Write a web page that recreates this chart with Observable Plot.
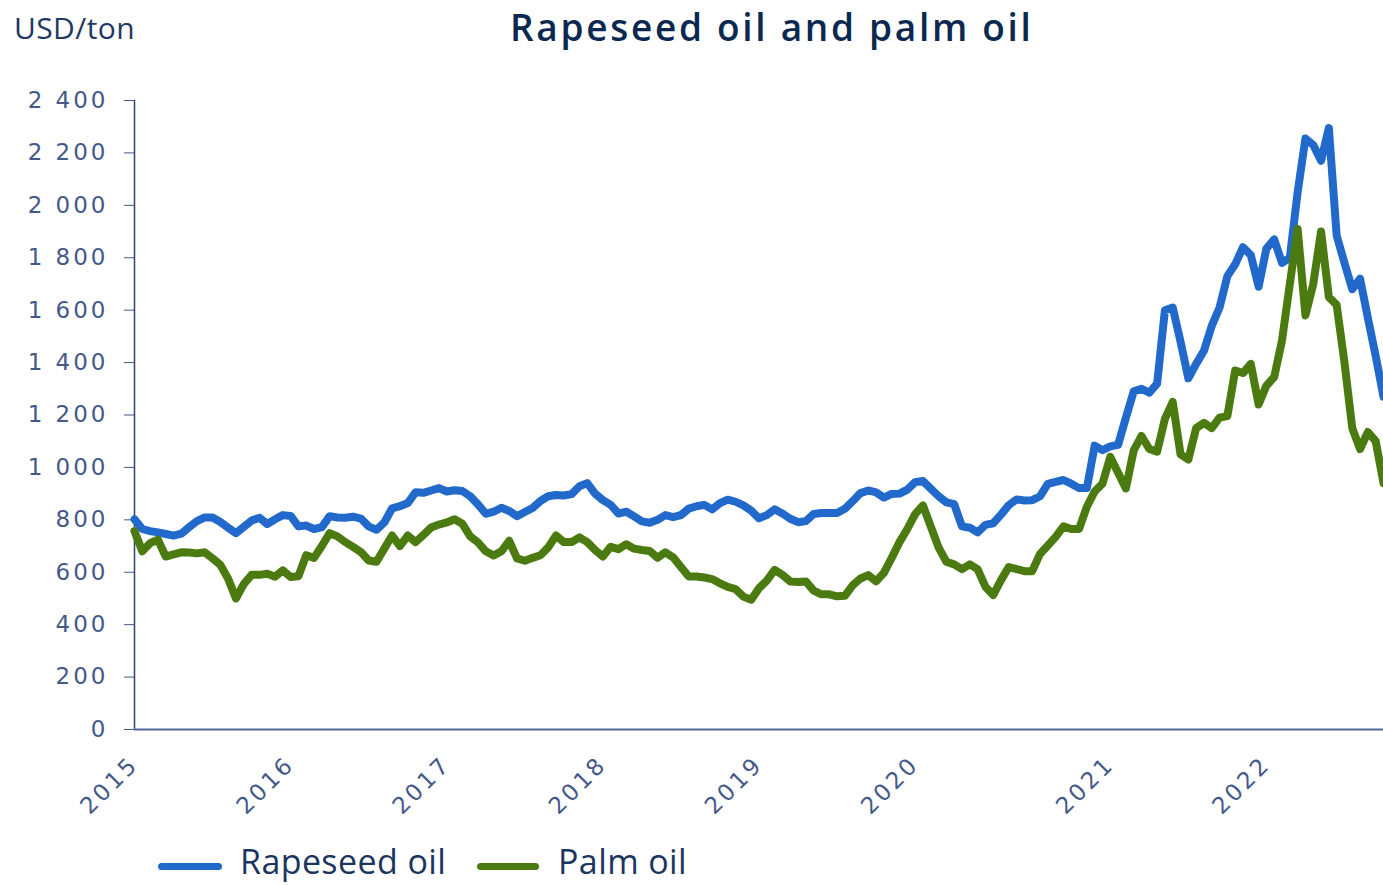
<!DOCTYPE html>
<html>
<head>
<meta charset="utf-8">
<script src="https://cdn.jsdelivr.net/npm/d3@7"></script>
<script src="https://cdn.jsdelivr.net/npm/@observablehq/plot@0.6"></script>
<style>
  body { margin: 0; background: #fff; }
  #wrap { position: relative; width: 1383px; height: 885px; overflow: hidden; background: #fff; }
  #chart { position: absolute; left: 0; top: 0; }
  .title { position: absolute; left: 510px; top: 5px; font-family: "Open Sans", sans-serif; font-weight: 600; font-size: 37px; letter-spacing: 2.7px; line-height: 1.2; color: #0b2950; white-space: nowrap; }
  .unit { position: absolute; left: 14px; top: 10px; font-family: "Open Sans", sans-serif; font-weight: 400; font-size: 30px; letter-spacing: 0.4px; line-height: 1.2; color: #1f3864; white-space: nowrap; }
  .sw { position: absolute; height: 7px; border-radius: 4px; }
  .lt { position: absolute; font-family: "Open Sans", sans-serif; font-weight: 400; font-size: 34px; line-height: 1.1; color: #1b3560; white-space: nowrap; letter-spacing: 0.4px; }
  #chart g[aria-label$="tick label"] text { letter-spacing: 3px; }
</style>
</head>
<body>
<div id="wrap">
  <div id="chart"></div>
  <div class="title">Rapeseed oil and palm oil</div>
  <div class="unit">USD/ton</div>
  <div class="sw" style="left:158px;top:863px;width:64px;background:#2169cb"></div>
  <div class="lt" style="left:240px;top:843px">Rapeseed oil</div>
  <div class="sw" style="left:477px;top:863px;width:62px;background:#4b7b10"></div>
  <div class="lt" style="left:558px;top:843px">Palm oil</div>
</div>
<script>
const seriesNames = ["Rapeseed oil", "Palm oil"];
const seriesColors = ["#2169cb", "#4b7b10"];
const yearTicks = [0, 20, 40, 60, 80, 100, 125, 145];
const yearLabels = ["2015", "2016", "2017", "2018", "2019", "2020", "2021", "2022"];
const yTicks = [0, 200, 400, 600, 800, 1000, 1200, 1400, 1600, 1800, 2000, 2200, 2400];

const rapeseed = [
  802, 765, 757, 752, 746, 740, 747, 772, 795, 809,
  809, 792, 770, 749, 773, 797, 808, 784, 802, 818,
  815, 775, 778, 765, 772, 814, 809, 808, 812, 805,
  775, 762, 790, 844, 852, 864, 905, 903, 912, 921,
  908, 913, 910, 890, 859, 823, 831, 846, 834, 814,
  830, 845, 872, 890, 895, 893, 898, 928, 940, 900,
  875, 857, 824, 831, 813, 794, 789, 800, 818, 810,
  818, 843, 852, 857, 840, 864, 877, 869, 855, 835,
  806, 818, 840, 824, 804, 791, 795, 822, 826, 826,
  826, 842, 871, 902, 912, 905, 885, 899, 900, 915,
  944, 948, 919, 890, 867, 860, 775, 770, 752, 781,
  787, 820, 856, 878, 874, 875, 890, 937, 945, 952,
  938, 921, 921, 1083, 1066, 1080, 1086, 1190, 1290, 1300,
  1285, 1320, 1600, 1610, 1480, 1340, 1395, 1445, 1540, 1610,
  1730, 1775, 1840, 1810, 1690, 1835, 1870, 1780, 1800, 2050,
  2255, 2230, 2170, 2295, 1885, 1780, 1680, 1720, 1570, 1425,
  1270
];

const palm = [
  757, 680, 711, 724, 660, 668, 676, 675, 672, 676,
  653, 628, 575, 500, 555, 590, 590, 594, 583, 607,
  582, 585, 665, 655, 700, 749, 737, 715, 697, 677,
  645, 640, 690, 740, 700, 740, 715, 742, 771, 782,
  790, 802, 785, 737, 714, 680, 664, 680, 720, 653,
  644, 655, 665, 695, 740, 715, 715, 733, 715, 685,
  660, 697, 688, 707, 690, 685, 681, 655, 676, 657,
  620, 584, 584, 580, 574, 558, 544, 536, 507, 495,
  539, 568, 609, 590, 565, 563, 565, 530, 516, 516,
  508, 510, 550, 576, 589, 565, 598, 655, 715, 765,
  822, 855, 775, 695, 640, 630, 612, 630, 612, 545,
  513, 570, 620, 612, 604, 604, 670, 702, 735, 775,
  765, 765, 850, 908, 938, 1040, 980, 920, 1065, 1120,
  1070, 1060, 1185, 1250, 1050, 1030, 1150, 1170, 1150, 1190,
  1196, 1370, 1360, 1395, 1240, 1312, 1345, 1485, 1700, 1910,
  1580, 1700, 1900, 1650, 1620, 1400, 1150, 1070, 1135, 1100,
  940
];

const rows = [
  ...rapeseed.map((v, i) => ({series: seriesNames[0], i, v})),
  ...palm.map((v, i) => ({series: seriesNames[1], i, v}))
];

const fmt = d3.formatLocale({decimal: ",", thousands: " ", grouping: [3], currency: ["", ""]}).format(",d");
const labelColor = "#44598a";

const chart = Plot.plot({
  width: 1383,
  height: 885,
  marginLeft: 134,
  marginRight: 0,
  marginTop: 100,
  marginBottom: 156,
  x: {domain: [0, 160], axis: null},
  y: {domain: [0, 2400], axis: null},
  color: {domain: seriesNames, range: seriesColors},
  style: {fontFamily: "DejaVu Sans, sans-serif", fontSize: "23px", color: labelColor, background: "#fff", overflow: "visible"},
  marks: [
    Plot.axisY({ticks: yTicks, tickFormat: fmt, tickSize: 10, tickPadding: 16, label: null, color: labelColor, fontSize: 23}),
    Plot.axisX({ticks: yearTicks, tickFormat: d => yearLabels[yearTicks.indexOf(d)], tickRotate: -45, tickSize: 0, tickPadding: 31, label: null, color: labelColor, fontSize: 23}),
    Plot.ruleX([0], {y1: 0, y2: 2400, stroke: "#2e4373", strokeWidth: 1.5}),
    Plot.ruleY([0], {stroke: "#52679a", strokeWidth: 2}),
    Plot.line(rows.filter(d => d.series === seriesNames[0]), {x: "i", y: "v", stroke: "series", strokeWidth: 8, strokeLinejoin: "round", strokeLinecap: "round"}),
    Plot.line(rows.filter(d => d.series === seriesNames[1]), {x: "i", y: "v", stroke: "series", strokeWidth: 8, strokeLinejoin: "round", strokeLinecap: "round"})
  ]
});
document.getElementById("chart").appendChild(chart);
</script>
</body>
</html>
